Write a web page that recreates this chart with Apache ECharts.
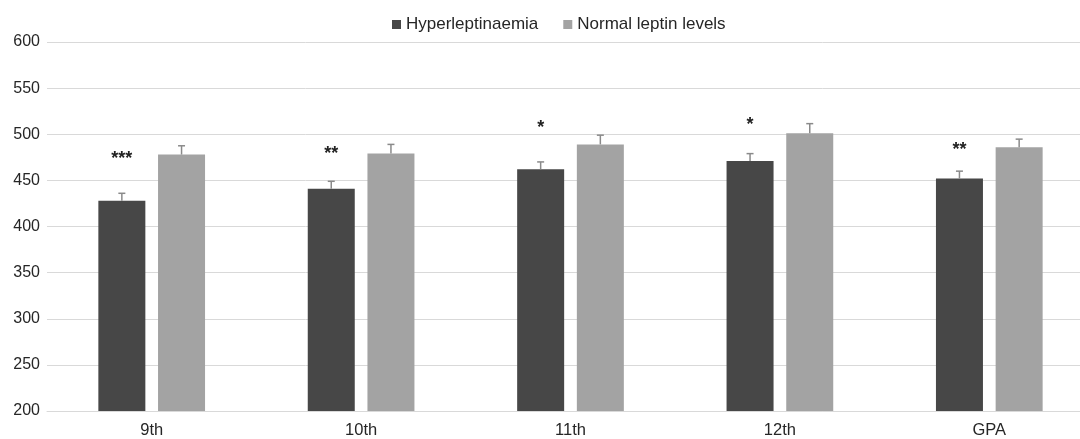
<!DOCTYPE html>
<html>
<head>
<meta charset="utf-8">
<script src="https://cdn.jsdelivr.net/npm/echarts@6/dist/echarts.min.js"></script>
<style>html,body{margin:0;padding:0;background:#fff;}#c{width:1080px;height:439px;}</style>
</head>
<body>
<div id="c"></div>
<script>
const categories = ['9th', '10th', '11th', '12th', 'GPA'];
const hyper = [428, 441, 462, 471, 452];
const normal = [478, 479, 489, 501, 486];
const hyperErr = [8, 8, 8, 8, 8];
const normalErr = [9.5, 10, 10, 10.5, 8.7];
const stars = ['***', '**', '*', '*', '**'];
const starY = [473, 479, 507, 510, 483];
const yTicks = { min: 200, max: 600, interval: 50 };

const FONT = '"Liberation Sans", Arial, sans-serif';
const BAR_W = 47;
const GAP_PX = 12.7;
const OFF = (BAR_W + GAP_PX) / 2;

function errRender(offset) {
  return function (params, api) {
    const i = api.value(0), v = api.value(1), e = api.value(2);
    const base = api.coord([i, v]);
    const top = api.coord([i, v + e]);
    const x = base[0] + offset;
    const st = { stroke: '#8a8a8a', lineWidth: 1.5 };
    return {
      type: 'group',
      children: [
        { type: 'line', shape: { x1: x, y1: base[1], x2: x, y2: top[1] }, style: st },
        { type: 'line', shape: { x1: x - 3.5, y1: top[1], x2: x + 3.5, y2: top[1] }, style: st }
      ]
    };
  };
}

const chart = echarts.init(document.getElementById('c'));
chart.setOption({
  animation: false,
  backgroundColor: '#fff',
  legend: {
    top: 11,
    left: 387,
    itemWidth: 9,
    itemHeight: 9,
    itemGap: 25,
    icon: 'rect',
    data: ['Hyperleptinaemia', 'Normal leptin levels'],
    textStyle: { fontFamily: FONT, fontSize: 17, color: '#262626' }
  },
  grid: { left: 47, width: 1047, top: 42, bottom: 28, outerBoundsMode: 'none', containLabel: false },
  xAxis: {
    type: 'category',
    data: categories,
    axisTick: { show: false },
    axisLine: { lineStyle: { color: '#d9d9d9', width: 1 } },
    axisLabel: { fontFamily: FONT, fontSize: 16.5, color: '#262626', margin: 11 }
  },
  yAxis: {
    type: 'value',
    min: yTicks.min, max: yTicks.max, interval: yTicks.interval,
    axisLine: { show: false },
    axisTick: { show: false },
    splitLine: { lineStyle: { color: '#d9d9d9', width: 1 } },
    axisLabel: { fontFamily: FONT, fontSize: 16, color: '#262626', margin: 7 }
  },
  series: [
    {
      name: 'Hyperleptinaemia', type: 'bar', data: hyper,
      barWidth: BAR_W, barGap: (GAP_PX / BAR_W * 100).toFixed(1) + '%',
      itemStyle: { color: '#474747' }
    },
    {
      name: 'Normal leptin levels', type: 'bar', data: normal,
      barWidth: BAR_W,
      itemStyle: { color: '#a3a3a3' }
    },
    {
      type: 'custom', name: 'errH', z: 5,
      renderItem: errRender(-OFF),
      data: hyper.map((v, i) => [i, v, hyperErr[i]]),
      encode: { x: 0, y: 1 }
    },
    {
      type: 'custom', name: 'errN', z: 5,
      renderItem: errRender(OFF),
      data: normal.map((v, i) => [i, v, normalErr[i]]),
      encode: { x: 0, y: 1 }
    },
    {
      type: 'custom', name: 'stars', z: 6,
      renderItem: function (params, api) {
        const i = api.value(0), y = api.value(1);
        const p = api.coord([i, y]);
        return {
          type: 'text', x: p[0] - OFF, y: p[1],
          style: {
            text: stars[i], align: 'center', verticalAlign: 'middle',
            fontFamily: FONT, fontSize: 18, fontWeight: 'bold', fill: '#222'
          }
        };
      },
      data: starY.map((v, i) => [i, v]),
      encode: { x: 0, y: 1 }
    }
  ]
});
</script>
</body>
</html>
